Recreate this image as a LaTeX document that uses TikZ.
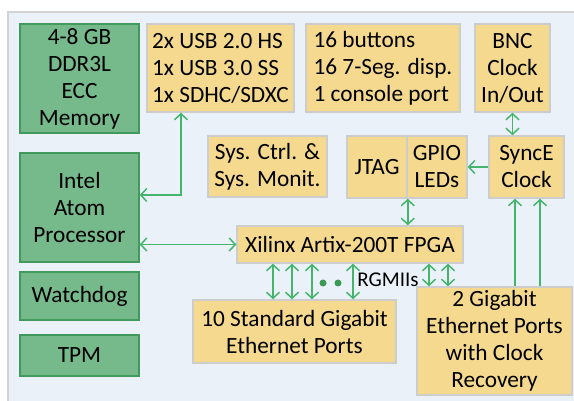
\documentclass[tikz,border=0pt]{standalone}
\usepackage{fontspec}
\setmainfont{Carlito}
\usetikzlibrary{arrows.meta}

\definecolor{bgc}{HTML}{EBF1F9}
\definecolor{bgline}{HTML}{D2D2D2}
\definecolor{cpufill}{HTML}{76B98A}
\definecolor{cpuline}{HTML}{419A5C}
\definecolor{iofill}{HTML}{F5D98F}
\definecolor{ioline}{HTML}{CDCDCD}
\definecolor{linkc}{HTML}{45B56B}
\definecolor{dotc}{HTML}{3C9A55}

\begin{document}
\begin{tikzpicture}[x=1pt,y=-1pt,
	every node/.style={font=\fontsize{23.3}{27}\selectfont},
	cpubox/.style={draw=cpuline,fill=cpufill,line width=1.5pt,align=center,inner sep=0pt},
	iobox/.style={draw=ioline,fill=iofill,line width=1.5pt,align=center,inner sep=0pt},
	listbox/.style={iobox,align=left},
	link/.style={draw=linkc,line width=1.5pt},
	>={Straight Barb[length=6pt,width=13pt]},
	dot/.style={circle,fill=dotc,inner sep=0pt,minimum size=7pt}]
	\useasboundingbox (0,0) rectangle (574,401);
	\fill[bgc] (8,12) rectangle (574,401);
	\draw[bgline,line width=1.5pt] (8,401) -- (8,12) -- (574,12);
	% processor side
	\node[cpubox,minimum width=119pt,minimum height=109pt] (mem) at (79.5,78.5) {4-8 GB\\DDR3L\\ECC\\Memory};
	\node[cpubox,minimum width=119pt,minimum height=109pt] (cpu) at (79.5,207.5) {Intel\\Atom\\Processor};
	\node[cpubox,minimum width=119pt,minimum height=48pt] (wdog) at (79.5,296) {Watchdog};
	\node[cpubox,minimum width=119pt,minimum height=41pt] (tpm) at (79.5,355.5) {TPM};
	% peripherals
	\node[listbox,minimum width=147pt,minimum height=88pt] (usb) at (220.5,68) {2x USB 2.0 HS\\1x USB 3.0 SS\\1x SDHC/SDXC};
	\node[listbox,minimum width=154pt,minimum height=88pt] (btns) at (383,68) {16 buttons\\16 7-Seg. disp.\\1 console port};
	\node[iobox,minimum width=75pt,minimum height=88pt] (bnc) at (512.5,68) {BNC\\Clock\\In/Out};
	\node[iobox,minimum width=119pt,minimum height=61pt] (sysc) at (267.5,166.5) {Sys. Ctrl. \&\\Sys. Monit.};
	\node[iobox,minimum width=60pt,minimum height=62pt] (jtag) at (377,167) {JTAG};
	\node[iobox,minimum width=60pt,minimum height=62pt] (gpio) at (437,167) {GPIO\\LEDs};
	\node[iobox,minimum width=75pt,minimum height=62pt] (synce) at (526.5,167) {SyncE\\Clock};
	\node[iobox,minimum width=226pt,minimum height=37pt] (fpga) at (350,244.5) {Xilinx Artix-200T FPGA};
	\node[iobox,minimum width=203pt,minimum height=63pt] (eth10) at (294.5,331.5) {10 Standard Gigabit\\Ethernet Ports};
	\node[iobox,minimum width=155pt,minimum height=108pt] (eth2) at (494.5,341) {2 Gigabit\\Ethernet Ports\\with Clock\\Recovery};
	% connections
	\draw[link,<->] ([xshift=-39.5pt]usb.south) |- ([yshift=12.5pt]cpu.east);
	\draw[link,<->] (fpga.west -| cpu.east) -- (fpga.west);
	\draw[link,<->] (bnc.south) -- (bnc.south |- synce.north);
	\draw[link,->] (synce.west) -- (gpio.east);
	\draw[link,<->] (jtag.south east) -- (jtag.south east |- fpga.north);
	\foreach \x in {515,540}
		\draw[link,->] (eth2.north -| \x,0) -- (synce.south -| \x,0);
	\foreach \x in {273,292,312,353}
		\draw[link,<->] (fpga.south -| \x,0) -- (eth10.north -| \x,0);
	\foreach \x in {429,448}
		\draw[link,<->] (fpga.south -| \x,0) -- (eth2.north -| \x,0);
	\node[dot] (d1) at (323,283) {};
	\node[dot] (d2) at (338,283) {};
	\node[font=\fontsize{21}{24}\selectfont] (rgmii) at (388,280) {RGMIIs};
\end{tikzpicture}
\end{document}
